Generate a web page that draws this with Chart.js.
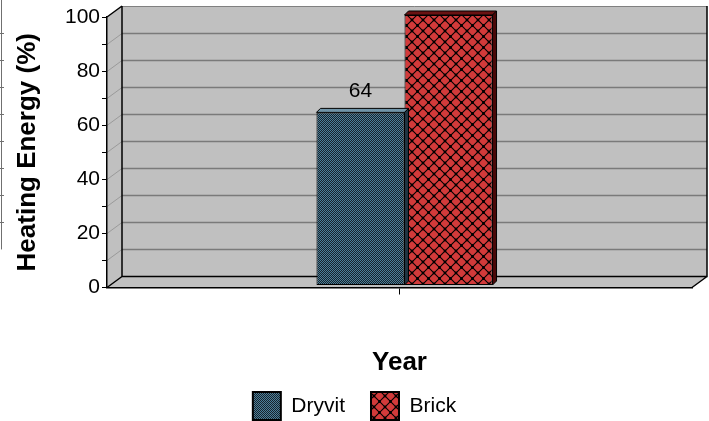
<!DOCTYPE html>
<html>
<head>
<meta charset="utf-8">
<title>Heating Energy</title>
<script src="https://cdn.jsdelivr.net/npm/chart.js@4.4.0/dist/chart.umd.min.js"></script>
<style>
  html, body { margin: 0; padding: 0; background: #fff; }
  canvas { display: block; }
</style>
</head>
<body>
<canvas id="chart" width="709" height="421"></canvas>
<script>
  'use strict';

  // Data
  const categories = [''];
  const seriesNames = ['Dryvit', 'Brick'];
  const dryvitValues = [64];
  const brickValues = [100];
  const yTickLabels = [0, 20, 40, 60, 80, 100];
  const xTitle = 'Year';
  const yTitle = 'Heating Energy (%)';

  // 3D look
  const wallDX = 15, wallDY = 11;
  const barShiftX = 5, barShiftY = -2, barDepth = 4;
  const faceColors = [
    { top: '#6f94a8', side: '#1f3441' },
    { top: '#6a1212', side: '#4a0808' }
  ];

  Chart.defaults.font.family = '"Liberation Sans", Arial, sans-serif';
  Chart.defaults.color = '#000';

  // fill patterns
  function dotPattern() {
    const c = document.createElement('canvas');
    c.width = 2; c.height = 2;
    const g = c.getContext('2d');
    g.fillStyle = '#4c7f9a'; g.fillRect(0, 0, 2, 2);
    g.fillStyle = '#17232b'; g.fillRect(0, 0, 1, 1); g.fillRect(1, 1, 1, 1);
    return g.createPattern(c, 'repeat');
  }
  function latticePattern() {
    const s = 11;
    const c = document.createElement('canvas');
    c.width = s; c.height = s;
    const g = c.getContext('2d');
    g.fillStyle = '#d23a3a'; g.fillRect(0, 0, s, s);
    g.strokeStyle = '#000'; g.lineWidth = 1.1;
    g.beginPath();
    g.moveTo(0, 0); g.lineTo(s, s);
    g.moveTo(s, 0); g.lineTo(0, s);
    g.stroke();
    g.fillStyle = '#000';
    [[s / 2, s / 2], [0, 0], [s, 0], [0, s], [s, s]].forEach(([px, py]) => {
      g.beginPath(); g.arc(px, py, 1.4, 0, Math.PI * 2); g.fill();
    });
    return g.createPattern(c, 'repeat');
  }

  const wallPlugin = {
    id: 'walls',
    beforeDraw(chart) {
      const { ctx, chartArea: a, scales: { y } } = chart;
      const L = a.left, R = a.right;
      const T = y.getPixelForValue(100), B = y.getPixelForValue(0);
      const dx = wallDX, dy = wallDY;
      ctx.save();

      // remnant frame on the left edge
      ctx.strokeStyle = '#707070';
      ctx.lineWidth = 1;
      ctx.beginPath();
      ctx.moveTo(1.5, 0); ctx.lineTo(1.5, y.getPixelForValue(10) - dy);
      for (let v = 20; v < 100; v += 10) {
        const py = Math.round(y.getPixelForValue(v) - dy) + 0.5;
        ctx.moveTo(0, py); ctx.lineTo(4, py);
      }
      ctx.stroke();

      ctx.fillStyle = '#c0c0c0';
      // side wall
      ctx.beginPath();
      ctx.moveTo(L, T); ctx.lineTo(L + dx, T - dy); ctx.lineTo(L + dx, B - dy); ctx.lineTo(L, B);
      ctx.closePath(); ctx.fill();
      // back wall
      ctx.fillRect(L + dx, T - dy, R - L, B - T);
      // floor
      ctx.beginPath();
      ctx.moveTo(L, B); ctx.lineTo(R, B); ctx.lineTo(R + dx, B - dy); ctx.lineTo(L + dx, B - dy);
      ctx.closePath(); ctx.fill();

      // gridlines every 10 on the back and side walls
      for (let v = 10; v < 100; v += 10) {
        const py = Math.round(y.getPixelForValue(v)) + 0.5;
        ctx.lineWidth = 1.5;
        ctx.strokeStyle = '#7a7a7a';
        ctx.beginPath(); ctx.moveTo(L + dx, py - dy); ctx.lineTo(R + dx, py - dy); ctx.stroke();
        ctx.lineWidth = 1;
        ctx.strokeStyle = '#9a9a9a';
        ctx.beginPath(); ctx.moveTo(L, py); ctx.lineTo(L + dx, py - dy); ctx.stroke();
      }

      // outlines
      ctx.lineWidth = 1;
      ctx.strokeStyle = '#808080';
      ctx.beginPath(); ctx.moveTo(L + dx, T - dy + 0.5); ctx.lineTo(R + dx, T - dy + 0.5); ctx.stroke();
      ctx.strokeStyle = '#000';
      ctx.lineWidth = 1.5;
      ctx.beginPath();
      ctx.moveTo(L, T); ctx.lineTo(L + dx, T - dy);
      ctx.moveTo(L + dx, T - dy); ctx.lineTo(L + dx, B - dy); ctx.lineTo(R + dx, B - dy); ctx.lineTo(R + dx, T - dy);
      ctx.moveTo(L, B); ctx.lineTo(L + dx, B - dy);
      ctx.moveTo(R, B); ctx.lineTo(R + dx, B - dy);
      ctx.stroke();
      ctx.restore();
    }
  };

  const barPlugin = {
    id: 'bars3d',
    beforeDatasetsDraw(chart) {
      chart.ctx.save();
      chart.ctx.translate(barShiftX, barShiftY);
    },
    afterDatasetDraw(chart, args) {
      const ctx = chart.ctx;
      const fc = faceColors[args.index];
      const d = barDepth;
      args.meta.data.forEach(bar => {
        const { x, y, base, width } = bar.getProps(['x', 'y', 'base', 'width'], true);
        const l = x - width / 2, r = x + width / 2;
        ctx.save();
        ctx.strokeStyle = '#000';
        ctx.lineWidth = 1;
        ctx.fillStyle = fc.top;
        ctx.beginPath();
        ctx.moveTo(l, y); ctx.lineTo(l + d, y - d); ctx.lineTo(r + d, y - d); ctx.lineTo(r, y);
        ctx.closePath(); ctx.fill(); ctx.stroke();
        ctx.fillStyle = fc.side;
        ctx.beginPath();
        ctx.moveTo(r, y); ctx.lineTo(r + d, y - d); ctx.lineTo(r + d, base - d); ctx.lineTo(r, base);
        ctx.closePath(); ctx.fill(); ctx.stroke();
        ctx.restore();
      });
    },
    afterDatasetsDraw(chart) {
      const ctx = chart.ctx;
      ctx.font = '21px "Liberation Sans", Arial, sans-serif';
      ctx.fillStyle = '#000';
      ctx.textAlign = 'center';
      ctx.textBaseline = 'alphabetic';
      chart.data.datasets.forEach((ds, i) => {
        chart.getDatasetMeta(i).data.forEach((bar, j) => {
          const ty = bar.y - 15;
          if (ty - 16 < chart.chartArea.top) return;
          ctx.fillText(String(ds.data[j]), bar.x, ty);
        });
      });
      ctx.restore();
    }
  };

  new Chart(document.getElementById('chart'), {
    type: 'bar',
    data: {
      labels: categories,
      datasets: [
        { label: seriesNames[0], data: dryvitValues, backgroundColor: dotPattern() },
        { label: seriesNames[1], data: brickValues, backgroundColor: latticePattern() }
      ]
    },
    options: {
      responsive: false,
      animation: false,
      devicePixelRatio: 1,
      layout: { padding: { top: 17, right: 0, left: 0, bottom: -9 } },
      datasets: {
        bar: {
          categoryPercentage: 0.301,
          barPercentage: 1.0,
          borderColor: '#000',
          borderWidth: 1,
          borderSkipped: false,
          clip: false
        }
      },
      plugins: {
        legend: {
          position: 'bottom',
          labels: {
            boxWidth: 28,
            boxHeight: 28,
            padding: 26,
            font: { size: 21 },
            color: '#000',
            generateLabels: chart =>
              Chart.defaults.plugins.legend.labels.generateLabels(chart).map(l => ({ ...l, lineWidth: 2 }))
          }
        },
        tooltip: { enabled: false }
      },
      scales: {
        x: {
          grid: { display: true, offset: false, drawOnChartArea: false, tickLength: 7, color: '#000' },
          border: { display: true, color: '#000', width: 1.5 },
          ticks: { display: false },
          title: {
            display: true, text: xTitle,
            font: { size: 26, weight: 'bold' },
            padding: { top: 0, bottom: -12 }
          },
          afterFit: s => { s.height = 78.5; }
        },
        y: {
          min: 0, max: 100,
          grid: { drawOnChartArea: false, tickLength: 5, color: '#000' },
          border: { display: true, color: '#000', width: 1.5 },
          ticks: {
            stepSize: 10,
            autoSkip: false,
            maxTicksLimit: 20,
            padding: 2,
            font: { size: 21 },
            color: '#000',
            callback: v => (yTickLabels.includes(v) ? v : '')
          },
          title: {
            display: true, text: yTitle,
            font: { size: 26, weight: 'bold' },
            padding: { top: 12, bottom: 0 }
          },
          afterFit: s => { s.width = 107; }
        },
        y2: {
          position: 'right',
          grid: { display: false },
          border: { display: false },
          ticks: { display: false },
          afterFit: s => { s.width = 17; }
        }
      }
    },
    plugins: [wallPlugin, barPlugin]
  });
</script>
</body>
</html>
